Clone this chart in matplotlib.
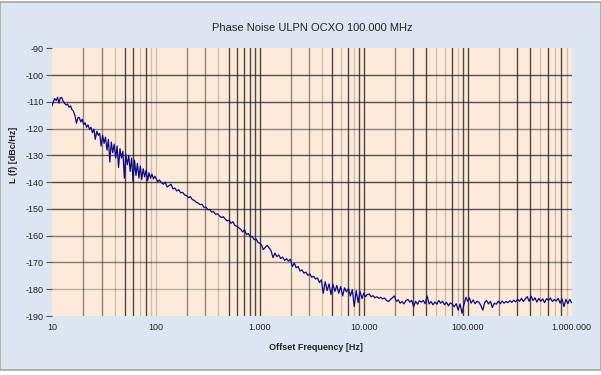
import matplotlib
matplotlib.use('Agg')
import matplotlib.pyplot as plt
from matplotlib.patches import Rectangle
from matplotlib.ticker import FixedLocator, NullLocator

plt.rcParams['font.family'] = ['Liberation Sans', 'DejaVu Sans']
plt.rcParams['axes.unicode_minus'] = False

freq_d1 = [10, 10.3, 10.6, 11, 11.3, 11.7, 12, 12.4, 12.8, 13.2, 13.7, 14.1, 14.6, 15.1, 15.6, 16.1, 16.6, 17.2,
           17.7, 18.3, 18.9, 19.5, 20.2, 20.8, 21.5, 22.2, 23, 23.7, 24.5, 25.3, 26.1, 27, 27.9, 28.8, 29.7, 30.7,
           31.7, 32.7, 33.8, 34.9, 36, 37.2, 38.4, 39.7, 41, 42.3, 43.7, 45.1, 46.6, 48.1, 49.7, 51.3, 53, 54.8,
           56.5, 58.4, 60.3, 62.3, 64.3, 66.4, 68.6, 70.8, 73.1, 75.5, 78, 80.6, 83.2, 85.9, 88.7, 91.6, 94.6, 97.7]
pn_d1 = [-111.5, -110, -108.8, -109.5, -108.3, -110.5, -108.5, -108.4, -109.8, -110.5, -111.2, -110.8, -112, -111.5,
         -113, -113.5, -115, -118, -116, -115.8, -117.5, -116.5, -118.5, -117.8, -119.5, -118.6, -120.3, -119.5,
         -121.5, -120.2, -124, -121, -122.5, -121.8, -126.5, -122.5, -125.5, -123.2, -128, -124, -132.5, -125, -129,
         -125.8, -131, -126.5, -134.5, -127.5, -131, -128.5, -138.5, -129.5, -133.5, -130, -136, -131, -139.8, -131.8,
         -137.5, -133, -138.5, -134, -139, -135, -138, -135.5, -139.5, -136.5, -138.5, -137, -138.8, -137.8]

freq_d2 = [100, 104, 108, 113, 118, 123, 128, 134, 140, 146, 152, 159, 166, 173, 181, 189, 197, 206, 215, 224, 234,
           244, 255, 266, 278, 290, 303, 316, 330, 344, 359, 375, 391, 408, 426, 445, 464, 485, 506, 528, 551, 575,
           600, 627, 654, 683, 713, 744, 777, 811, 846, 884, 922, 963]
pn_d2 = [-138.5, -139.8, -139.2, -140.2, -140.8, -140, -141.8, -141.3, -140.8, -142.5, -142.2, -143.3, -142.8, -144,
         -143.8, -144.8, -145, -145.8, -145.4, -146.5, -146.8, -147.5, -147.8, -148.4, -148.3, -149.4, -149.3, -150.3,
         -150.2, -151.2, -151, -152, -151.8, -152.6, -153.2, -152.9, -153.8, -154.5, -154.2, -155.4, -154.8, -156.2,
         -156.5, -157, -157.6, -158.6, -157.8, -159.6, -159.2, -160.5, -160.3, -161.5, -161.2, -162.6]

freq_d3 = [1000, 1040, 1080, 1130, 1180, 1230, 1280, 1340, 1400, 1460, 1520, 1590, 1660, 1730, 1810, 1890, 1970, 2060,
           2150, 2240, 2340, 2440, 2550, 2660, 2780, 2900, 3030, 3160, 3300, 3440, 3590, 3750, 3910, 4080, 4260, 4450,
           4640, 4850, 5060, 5280, 5510, 5750, 6000, 6270, 6540, 6830, 7130, 7440, 7770, 8110, 8460, 8840, 9220, 9630]
pn_d3 = [-162.8, -163.5, -165.2, -164.3, -163.6, -164.6, -165.5, -168.2, -166.5, -167.8, -167.2, -168.5, -168, -169.2,
         -168.6, -169.5, -168.8, -171.5, -170.2, -172, -171.5, -173.2, -172.8, -174, -173.6, -174.8, -174.3, -175.5,
         -175.2, -176.2, -175.8, -177.5, -176.5, -181.5, -177.2, -180.5, -178, -182, -178.2, -180.8, -178.6, -181.5,
         -179, -182.5, -179.5, -181, -179.8, -182.5, -180.2, -186.5, -180.5, -185, -180.8, -183.5]

freq_d4 = [10000, 10400, 10800, 11300, 11800, 12300, 12800, 13400, 14000, 14600, 15200, 15900, 16600, 17300, 18100,
           18900, 19700, 20600, 21500, 22400, 23400, 24400, 25500, 26600, 27800, 29000, 30300, 31600, 33000, 34400,
           35900, 37500, 39100, 40800, 42600, 44500, 46400, 48500, 50600, 52800, 55100, 57500, 60000, 62700, 65400,
           68300, 71300, 74400, 77700, 81100, 84600, 88400, 92200, 96300]
pn_d4 = [-181.5, -182.8, -182, -181.8, -182.8, -182.4, -183.2, -182.8, -183.4, -183, -183.6, -183.3, -184.2, -184.6,
         -183.8, -183.2, -182.5, -184.5, -184, -185.2, -184.6, -185.5, -184.2, -183.8, -184.8, -184.2, -186.5, -184.5,
         -185.6, -184.3, -184.8, -184.2, -185.4, -182.5, -185.5, -184.6, -185.8, -184.8, -185.6, -184.2, -185.2,
         -184.5, -185.8, -184.9, -186.2, -185.1, -185.6, -186.5, -185.4, -187.8, -185.5, -189, -185.8, -183]

freq_d5 = [100000, 104000, 108000, 113000, 118000, 123000, 128000, 134000, 140000, 146000, 152000, 159000, 166000,
           173000, 181000, 189000, 197000, 206000, 215000, 224000, 234000, 244000, 255000, 266000, 278000, 290000,
           303000, 316000, 330000, 344000, 359000, 375000, 391000, 408000, 426000, 445000, 464000, 485000, 506000,
           528000, 551000, 575000, 600000, 627000, 654000, 683000, 713000, 744000, 777000, 811000, 846000, 884000,
           922000, 963000, 1000000]
pn_d5 = [-184.5, -183.2, -185.2, -184, -185.4, -184.5, -184.8, -186, -187.8, -185, -184.2, -185.5, -184.5, -186.8,
         -185.2, -185.6, -184.5, -185.4, -184.4, -185.2, -184.6, -185, -184.3, -184.9, -184.1, -184.7, -183.8, -184.5,
         -183.4, -184.6, -183.6, -182.8, -184.5, -182.6, -184.2, -183.2, -184.8, -183.4, -184.5, -183.6, -185, -183.5,
         -184.2, -183.3, -184.6, -183.8, -184.4, -183.4, -185.2, -183.6, -186.5, -183.8, -185.4, -183.8, -185]

freq = freq_d1 + freq_d2 + freq_d3 + freq_d4 + freq_d5
pn = pn_d1 + pn_d2 + pn_d3 + pn_d4 + pn_d5

x_ticks = [10, 100, 1000, 10000, 100000, 1000000]
x_labels = ['10', '100', '1.000', '10.000', '100.000', '1.000.000']
y_ticks = [-90, -100, -110, -120, -130, -140, -150, -160, -170, -180, -190]

fig = plt.figure(figsize=(6.01, 3.75), dpi=100, facecolor='white')
fig.patches.append(Rectangle((0, 5 / 375), 1, 368 / 375, transform=fig.transFigure,
                             facecolor='#DCE6F2', edgecolor='#A6A6A6', linewidth=1.2, zorder=-10))

ax = fig.add_axes([52 / 601, 1 - 316 / 375, 519.5 / 601, 267.7 / 375])
ax.set_facecolor('#FDEADA')
ax.set_xscale('log')
ax.set_xlim(10, 1000000)
ax.set_ylim(-190, -90)

# vertical grid lines, darkness varies like in the original rendering
dark = [50, 60, 80, 500, 600, 700, 800, 900, 1000, 5000, 7000, 9000, 10000, 30000, 40000, 70000, 90000,
        100000, 300000, 400000, 600000, 800000]
medium = [20, 30, 200, 300, 2000, 3000, 20000, 200000]
for dec in [10, 100, 1000, 10000, 100000]:
    for m in range(1, 10):
        f = dec * m
        if f == 10:
            continue
        if f in dark:
            a = 0.8
        elif f in medium:
            a = 0.5
        else:
            a = 0.22
        ax.axvline(f, color='#202020', lw=1.0, alpha=a, zorder=1)

h_alpha = {-100: 0.75, -110: 0.75, -120: 0.5, -130: 0.75, -140: 0.8, -150: 0.75, -160: 0.55, -170: 0.55, -180: 0.3}
for yv, a in h_alpha.items():
    ax.axhline(yv, color='#202020', lw=1.0, alpha=a, zorder=1)

ax.plot(freq, pn, color='#0B0B84', lw=0.9, zorder=3)

for s in ax.spines.values():
    s.set_visible(False)

ax.xaxis.set_major_locator(FixedLocator(x_ticks))
ax.xaxis.set_minor_locator(NullLocator())
ax.set_xticklabels(x_labels)
ax.set_yticks(y_ticks)
ax.tick_params(axis='x', length=0, pad=5, labelsize=6.5, colors='#222222')
ax.tick_params(axis='y', length=4, width=0.8, color='#555555', pad=2, labelsize=6.5, labelcolor='#222222')

fig.text(0.519, 1 - 28 / 375, 'Phase Noise ULPN OCXO 100.000 MHz', ha='center', va='center', fontsize=8,
         color='#222222')
fig.text(0.526, 1 - 348 / 375, 'Offset Frequency [Hz]', ha='center', va='center', fontsize=6.5,
         fontweight='bold', color='#222222')
fig.text(14 / 601, 1 - 155 / 375, 'L (f) [dBc/Hz]', ha='center', va='center', rotation=90, fontsize=6.5,
         fontweight='bold', color='#222222')

fig.savefig('out.png', dpi=100, facecolor=fig.get_facecolor())
